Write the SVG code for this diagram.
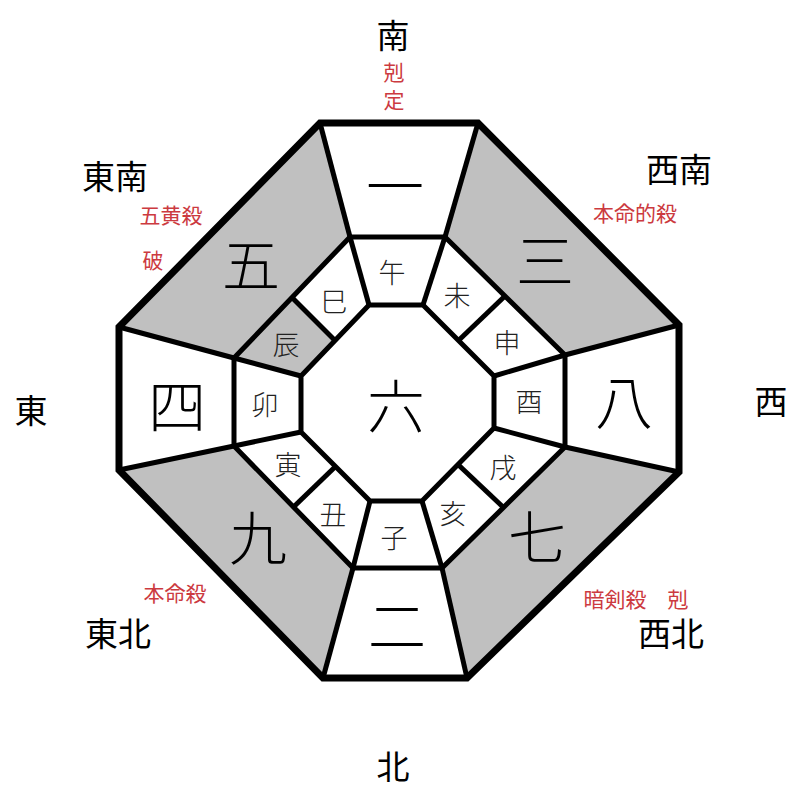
<svg xmlns="http://www.w3.org/2000/svg" width="800" height="800" viewBox="0 0 800 800">
<style>
.bg{fill:#ffffff}
.gray{fill:#c0c0c0;stroke:none}
.ln{fill:none;stroke:#000;stroke-width:5;stroke-linejoin:miter}
.outer{fill:none;stroke:#000;stroke-width:7;stroke-linejoin:miter}
text{font-family:"Noto Sans CJK JP","Noto Sans CJK SC",sans-serif;text-anchor:middle;dominant-baseline:central}
.dir{font-size:33px;fill:#000}
.red{font-size:21px;fill:#cc3a40}
.num{font-size:58px;fill:#000;font-weight:300}
.zod{font-size:27px;fill:#222;font-weight:300}
</style>
<rect class="bg" x="0" y="0" width="800" height="800"/>
<g id="fills">
<polygon class="gray" points="119,327 320,123 350,237 234,358"/>
<polygon class="gray" points="478,123 679,325 565,355 445,237"/>
<polygon class="gray" points="679,472 467,678 442,568 565,447"/>
<polygon class="gray" points="323,678 119,470 234,446 353,568"/>
<polygon class="gray" points="234,358 292,297.5 335,340.5 301,376"/>
</g>
<g id="connectors">
<polygon class="ln" points="350,237 445,237 565,355 565,447 442,568 353,568 234,446 234,358"/>
<polygon class="ln" points="369,305 423,305 494,376 494,428 422,501 370,501 301,432 301,376"/>
<line class="ln" x1="320" y1="123" x2="350" y2="237"/>
<line class="ln" x1="478" y1="123" x2="445" y2="237"/>
<line class="ln" x1="679" y1="325" x2="565" y2="355"/>
<line class="ln" x1="679" y1="472" x2="565" y2="447"/>
<line class="ln" x1="467" y1="678" x2="442" y2="568"/>
<line class="ln" x1="323" y1="678" x2="353" y2="568"/>
<line class="ln" x1="119" y1="470" x2="234" y2="446"/>
<line class="ln" x1="119" y1="327" x2="234" y2="358"/>
<line class="ln" x1="369" y1="305" x2="350" y2="237"/>
<line class="ln" x1="423" y1="305" x2="445" y2="237"/>
<line class="ln" x1="494" y1="376" x2="565" y2="355"/>
<line class="ln" x1="494" y1="428" x2="565" y2="447"/>
<line class="ln" x1="422" y1="501" x2="442" y2="568"/>
<line class="ln" x1="370" y1="501" x2="353" y2="568"/>
<line class="ln" x1="301" y1="432" x2="234" y2="446"/>
<line class="ln" x1="301" y1="376" x2="234" y2="358"/>
<line class="ln" x1="292" y1="297.5" x2="335" y2="340.5"/>
<line class="ln" x1="505" y1="296" x2="458.5" y2="340.5"/>
<line class="ln" x1="503.5" y1="507.5" x2="458" y2="464.5"/>
<line class="ln" x1="293.5" y1="507" x2="335.5" y2="466.5"/>
<polygon class="outer" points="320,123 478,123 679,325 679,472 467,678 323,678 119,470 119,327"/>
</g>
<g id="n-south"><text class="num" x="395" y="183">一</text><text class="zod" x="392" y="271">午</text></g>
<g id="n-southwest"><text class="num" x="545" y="258">三</text><text class="zod" x="457" y="294">未</text><text class="zod" x="507" y="341">申</text></g>
<g id="n-west"><text class="num" x="624" y="399">八</text><text class="zod" x="529" y="400">酉</text></g>
<g id="n-northwest"><text class="num" x="537" y="534">七</text><text class="zod" x="503" y="466">戌</text><text class="zod" x="453" y="512">亥</text></g>
<g id="n-north"><text class="num" x="397" y="623">二</text><text class="zod" x="394" y="536">子</text></g>
<g id="n-northeast"><text class="num" x="258" y="535">九</text><text class="zod" x="333" y="513">丑</text><text class="zod" x="288" y="463">寅</text></g>
<g id="n-east"><text class="num" x="177" y="403">四</text><text class="zod" x="265" y="403">卯</text></g>
<g id="n-southeast"><text class="num" x="251" y="262">五</text><text class="zod" x="286" y="343">辰</text><text class="zod" x="334" y="300">巳</text></g>
<g id="n-center"><text class="num" x="396" y="403">六</text></g>
<g id="labels">
<text class="dir" x="393" y="34">南</text>
<text class="red" x="394" y="71">剋</text>
<text class="red" x="394" y="99">定</text>
<text class="dir" x="115" y="175">東南</text>
<text class="red" x="171" y="214">五黄殺</text>
<text class="red" x="153" y="259">破</text>
<text class="dir" x="679" y="168">西南</text>
<text class="red" x="635" y="212">本命的殺</text>
<text class="dir" x="31" y="409">東</text>
<text class="dir" x="771" y="400">西</text>
<text class="red" x="175" y="592">本命殺</text>
<text class="dir" x="118" y="632">東北</text>
<text class="red" x="636" y="598">暗剣殺　剋</text>
<text class="dir" x="671" y="632">西北</text>
<text class="dir" x="393" y="765">北</text>
</g>
</svg>
